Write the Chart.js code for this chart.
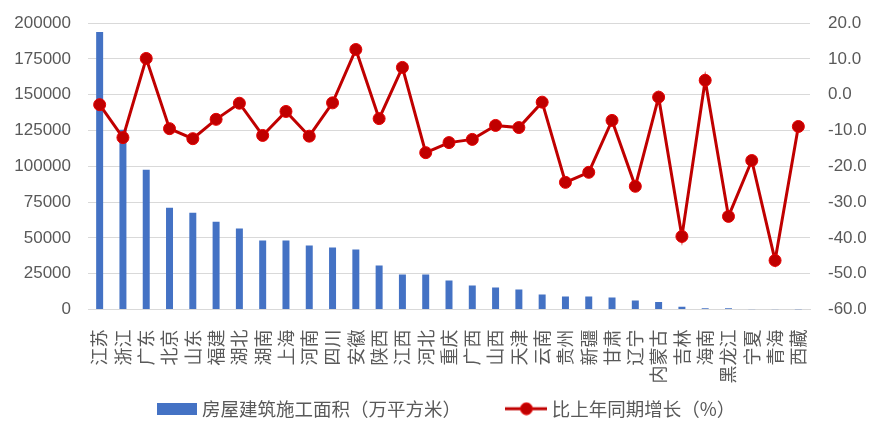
<!DOCTYPE html>
<html>
<head>
<meta charset="utf-8">
<script src="https://cdn.jsdelivr.net/npm/chart.js@4/dist/chart.umd.min.js"></script>
<style>
  html, body { margin: 0; padding: 0; background: #fff; }
  #wrap { width: 884px; height: 440px; }
</style>
</head>
<body>
<div id="wrap"><canvas id="chart"></canvas></div>
<script>
// provinces, in the order shown
const provinces = ['江苏', '浙江', '广东', '北京', '山东', '福建', '湖北', '湖南', '上海', '河南',
    '四川', '安徽', '陕西', '江西', '河北', '重庆', '广西', '山西', '天津', '云南',
    '贵州', '新疆', '甘肃', '辽宁', '内蒙古', '吉林', '海南', '黑龙江', '宁夏', '青海', '西藏'];

// 房屋建筑施工面积 (万平方米)
const area = [193700, 125400, 97600, 71100, 67600, 61300, 56500, 48100, 48100, 44600,
    43200, 41800, 30700, 24400, 24400, 20200, 16700, 15300, 13900, 10500,
    9000, 9000, 8400, 6300, 5300, 1900, 900, 900, 150, 100, 30];

// 比上年同期增长 (%)
const growth = [-2.8, -12.0, 10.1, -9.5, -12.3, -6.9, -2.4, -11.4, -4.7, -11.6,
    -2.3, 12.6, -6.7, 7.6, -16.2, -13.4, -12.5, -8.6, -9.2, -2.1,
    -24.5, -21.7, -7.2, -25.6, -0.7, -39.6, 4.0, -34.0, -18.4, -46.3, -8.9];

const areaLabel = '房屋建筑施工面积（万平方米）';
const growthLabel = '比上年同期增长（%）';

const textColor = '#595959';
const gridColor = '#D9D9D9';
const barColor = '#4472C4';
const lineColor = '#C00000';

const cjkFont = "'Noto Sans CJK SC', sans-serif";
const numFont = "'Liberation Sans', sans-serif";

// legend swatches drawn by hand so they look like the excel ones
function barSwatch() {
    const c = document.createElement('canvas');
    c.width = 40; c.height = 12;
    const g = c.getContext('2d');
    g.fillStyle = barColor;
    g.fillRect(0, 0, 40, 12);
    return c;
}

function lineSwatch() {
    const c = document.createElement('canvas');
    c.width = 42; c.height = 14;
    const g = c.getContext('2d');
    g.strokeStyle = lineColor;
    g.lineWidth = 3;
    g.beginPath();
    g.moveTo(0, 7);
    g.lineTo(42, 7);
    g.stroke();
    g.fillStyle = lineColor;
    g.strokeStyle = '#E60000';
    g.lineWidth = 1;
    g.beginPath();
    g.arc(21, 7, 6, 0, Math.PI * 2);
    g.fill();
    g.stroke();
    return c;
}

const swatches = [barSwatch(), lineSwatch()];
// extra room after the first legend entry (excel spaces them wider)
const legendGap = ['\u3000\u3000    ', ''];

// y axes: drop the automatic half-label padding so the plot top sits where excel has it
function noPad(scale, width) {
    scale.width = width;
    scale.paddingTop = 0;
    scale.paddingBottom = 0;
}

new Chart(document.getElementById('chart'), {
    data: {
        labels: provinces,
        datasets: [
            {
                type: 'bar',
                label: areaLabel,
                data: area,
                backgroundColor: barColor,
                barPercentage: 0.3,
                categoryPercentage: 1,
                yAxisID: 'y',
                order: 2
            },
            {
                type: 'line',
                label: growthLabel,
                data: growth,
                borderColor: lineColor,
                borderWidth: 3,
                pointRadius: 6,
                pointBackgroundColor: lineColor,
                pointBorderColor: '#E60000',
                pointBorderWidth: 1,
                tension: 0,
                yAxisID: 'y1',
                order: 1
            }
        ]
    },
    options: {
        responsive: true,
        maintainAspectRatio: false,
        animation: false,
        layout: {
            padding: { top: 23, left: 12, right: 0, bottom: 12 }
        },
        plugins: {
            tooltip: { enabled: false },
            legend: {
                position: 'bottom',
                labels: {
                    usePointStyle: true,
                    pointStyleWidth: 32,
                    color: textColor,
                    padding: 5,
                    font: { family: cjkFont, size: 18.5 },
                    generateLabels: chart => chart.data.datasets.map((ds, i) => ({
                        text: ds.label + legendGap[i],
                        fontColor: textColor,
                        pointStyle: swatches[i],
                        datasetIndex: i,
                        hidden: false,
                        lineWidth: 0
                    }))
                }
            }
        },
        scales: {
            x: {
                grid: { display: false },
                border: { color: gridColor, width: 1 },
                ticks: {
                    color: textColor,
                    minRotation: 90,
                    maxRotation: 90,
                    autoSkip: false,
                    padding: 12,
                    font: { family: cjkFont, size: 18 }
                },
                afterFit: scale => { scale.height = 85; }
            },
            y: {
                position: 'left',
                min: 0,
                max: 200000,
                grid: { color: gridColor, drawTicks: false },
                border: { display: false },
                ticks: {
                    stepSize: 25000,
                    color: textColor,
                    padding: 17,
                    font: { family: numFont, size: 17 },
                    callback: v => String(v)
                },
                afterFit: scale => noPad(scale, 76)
            },
            y1: {
                position: 'right',
                min: -60,
                max: 20,
                grid: { display: false, drawTicks: false },
                border: { display: false },
                ticks: {
                    stepSize: 10,
                    color: textColor,
                    padding: 18,
                    font: { family: numFont, size: 17 },
                    callback: v => v.toFixed(1)
                },
                afterFit: scale => noPad(scale, 74)
            }
        }
    }
});
</script>
</body>
</html>
